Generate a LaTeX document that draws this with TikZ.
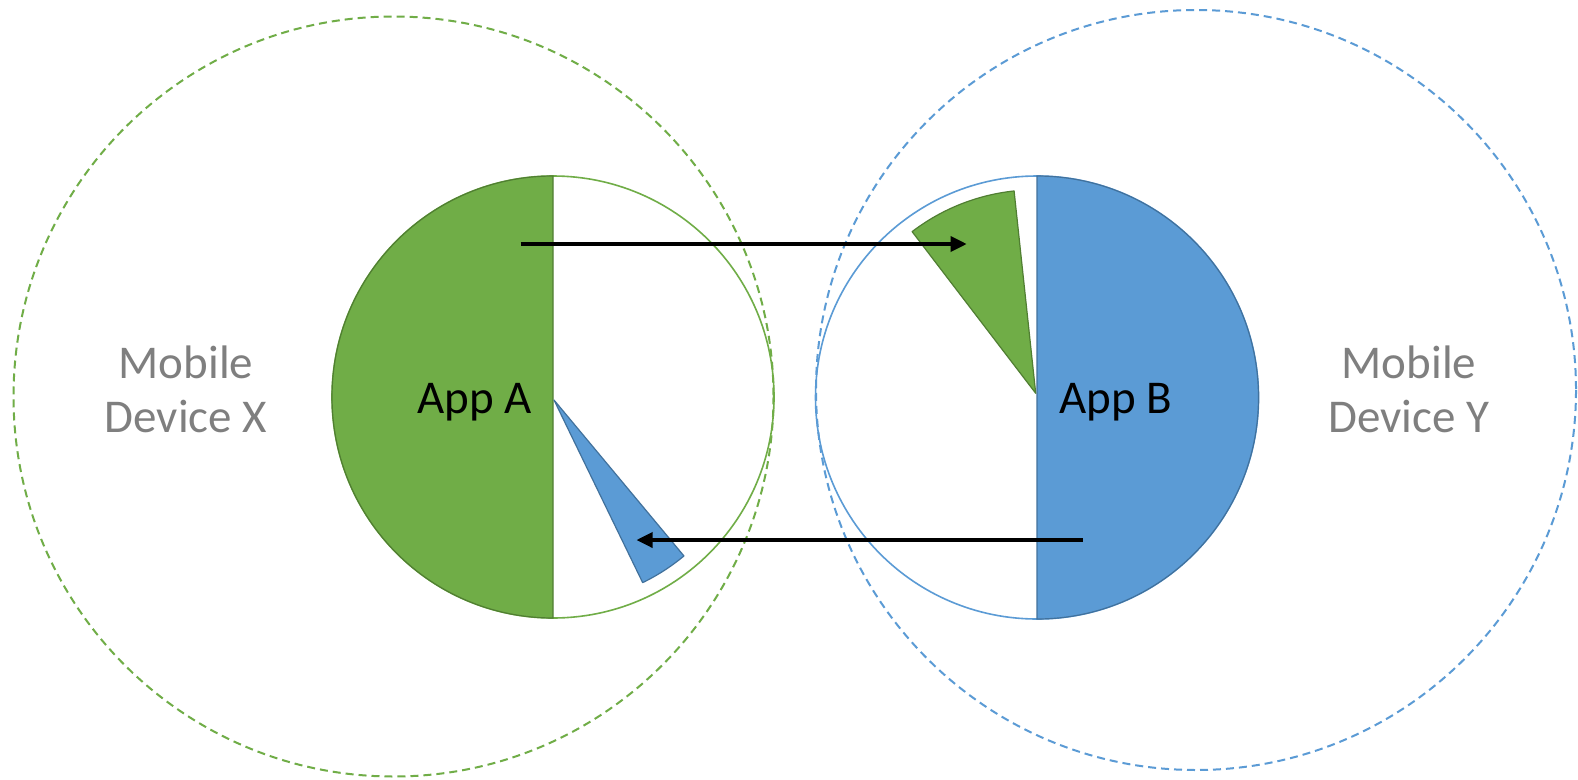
\documentclass[tikz,border=0pt]{standalone}
\usepackage{fontspec}
\setmainfont{Carlito}
\usetikzlibrary{arrows.meta}
\definecolor{offgreen}{HTML}{70AD47}
\definecolor{offgreenD}{HTML}{507E32}
\definecolor{offblue}{HTML}{5B9BD5}
\definecolor{offblueD}{HTML}{41719C}
\definecolor{labgray}{HTML}{7F7F7F}
\begin{document}
\begin{tikzpicture}[x=1pt,y=-1pt,
 devicering/.style={dash pattern=on 8pt off 5pt, line width=2pt},
 appring/.style={line width=1.6pt},
 halfdisk/.style={line width=1.2pt},
 slice/.style={line width=1.2pt, line join=round},
 flow/.style={line width=3.4pt, -{Triangle[length=16pt,width=15pt]}},
 applabel/.style={font=\fontsize{47}{54}\selectfont, text=black, inner sep=0pt},
 devlabel/.style={font=\fontsize{47}{54.4}\selectfont, text=labgray, align=center, inner sep=0pt}]
\fill[white] (0,0) rectangle (1578,779);
\useasboundingbox (0,0) rectangle (1578,779);

% device circles
\draw[devicering, offgreen] (393.5,396.5) circle[radius=380];
\draw[devicering, offblue] (1196,390) circle[radius=380];

% App A
\draw[appring, offgreen] (553,397) circle[radius=221];
\filldraw[halfdisk, fill=offgreen, draw=offgreenD] (553,176) arc[start angle=270, end angle=90, radius=221] -- cycle;
\filldraw[slice, fill=offblue, draw=offblueD] (554,400) -- ++(50.2:203) arc[start angle=50.2, end angle=64.1, radius=203] -- cycle;

% App B
\draw[appring, offblue] (1037,397.5) circle[radius=221.5];
\filldraw[halfdisk, fill=offblue, draw=offblueD] (1037,176) arc[start angle=-90, end angle=90, radius=221.5] -- cycle;
\filldraw[slice, fill=offgreen, draw=offgreenD] (1035.7,393.3) -- ++(232.6:203.5) arc[start angle=232.6, end angle=263.9, radius=203.5] -- cycle;

% labels
\node[applabel, anchor=base] (appA) at (474.7,413.3) {App A};
\node[applabel, anchor=base] (appB) at (1116,413.3) {App B};
\node[devlabel, anchor=base] (devX) at (186,432.7) {Mobile\\Device X};
\node[devlabel, anchor=base] (devY) at (1409,432.7) {Mobile\\Device Y};

% flows
\coordinate (sendA) at (520.7,244);
\coordinate (recvB) at (966.7,244);
\coordinate (sendB) at (1082.7,540);
\coordinate (recvA) at (636.5,540);
\draw[flow] (sendA) -- (recvB);
\draw[flow] (sendB) -- (recvA);
\end{tikzpicture}
\end{document}
